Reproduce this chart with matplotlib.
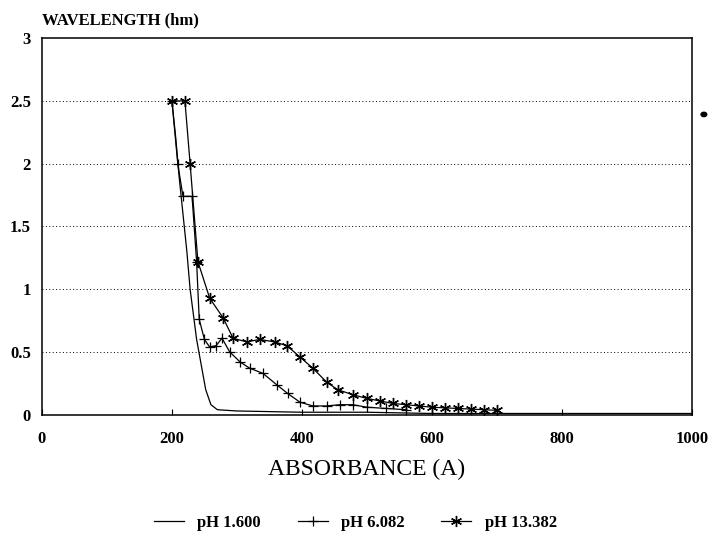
import numpy as np
import matplotlib.pyplot as plt
from matplotlib.patches import Circle

# data
ph1_x = [200, 206, 211, 217, 223, 228, 233, 238, 245, 252, 260, 270, 300, 400, 500, 600, 700, 800, 900, 1000]
ph1_y = [2.5, 2.2, 1.9, 1.6, 1.3, 1.0, 0.8, 0.6, 0.4, 0.2, 0.08, 0.04, 0.03, 0.02, 0.02, 0.01, 0.01, 0.01, 0.01, 0.01]

ph6_x = [200, 209, 217, 231, 238, 242, 250, 258, 268, 277, 289, 305, 320, 340, 361, 378, 397, 417,
         438, 458, 478, 500, 530, 560]
ph6_y = [2.5, 2.0, 1.74, 1.74, 1.22, 0.76, 0.6, 0.54, 0.55, 0.61, 0.5, 0.42, 0.37, 0.33, 0.24, 0.17, 0.10, 0.07,
         0.07, 0.08, 0.08, 0.06, 0.05, 0.04]

ph13_x = [200, 220, 228, 240, 258, 279, 294, 315, 335, 358, 377, 397, 417, 438, 455, 478, 500, 520,
          540, 560, 580, 600, 620, 640, 660, 680, 700]
ph13_y = [2.5, 2.5, 2.0, 1.22, 0.93, 0.77, 0.61, 0.58, 0.6, 0.58, 0.55, 0.46, 0.37, 0.26, 0.2, 0.16, 0.13, 0.11,
          0.09, 0.08, 0.07, 0.06, 0.055, 0.05, 0.045, 0.04, 0.035]

labels = ['pH 1.600', 'pH 6.082', 'pH 13.382']
xticks = [0, 200, 400, 600, 800, 1000]
yticks = [0, 0.5, 1, 1.5, 2, 2.5, 3]
ytick_labels = ['0', '0.5', '1', '1.5', '2', '2.5', '3']

plt.rcParams['font.family'] = ['Liberation Serif', 'DejaVu Serif']

fig = plt.figure(figsize=(7.11, 5.45), dpi=100)
ax = fig.add_axes([0.059, 0.239, 0.914, 0.691])

ax.plot(ph1_x, ph1_y, color='black', lw=0.9, label=labels[0])
ax.plot(ph6_x, ph6_y, color='black', lw=0.9, marker='+', ms=7, mew=0.9, label=labels[1])
# asterisk marker (6 thin arms) like the original plotter glyph
ax.plot(ph13_x, ph13_y, color='black', lw=0.9, marker=(6, 2, 0), ms=8, mew=1.0, label=labels[2])

ax.set_xlim(0, 1000)
ax.set_ylim(0, 3)
ax.set_xticks(xticks)
ax.set_yticks(yticks)
ax.set_yticklabels(ytick_labels)
for y in yticks[1:-1]:
    ax.axhline(y, color='black', lw=0.7, ls=(0, (1, 2.5)), zorder=0)

ax.tick_params(axis='x', direction='in', length=4, width=0.8, pad=12, labelsize=12)
ax.tick_params(axis='y', length=0, pad=8, labelsize=12)
for lab in ax.get_xticklabels() + ax.get_yticklabels():
    lab.set_fontweight('bold')
for sp in ax.spines.values():
    sp.set_linewidth(1.1)

ax.set_xlabel('ABSORBANCE (A)', fontsize=17, labelpad=8)
fig.text(0.059, 0.962, 'WAVELENGTH (hm)', fontsize=12, fontweight='bold', ha='left', va='center')

fig.legend(loc='center', bbox_to_anchor=(0.5, 0.04), ncol=3, frameon=False,
           handlelength=1.8, columnspacing=2.2, prop={'weight': 'bold', 'size': 12})

# scan blemish to the right of the frame
fig.patches.append(Circle((0.990, 0.790), 0.004, transform=fig.transFigure, color='black'))

fig.savefig('out.png', dpi=100)
